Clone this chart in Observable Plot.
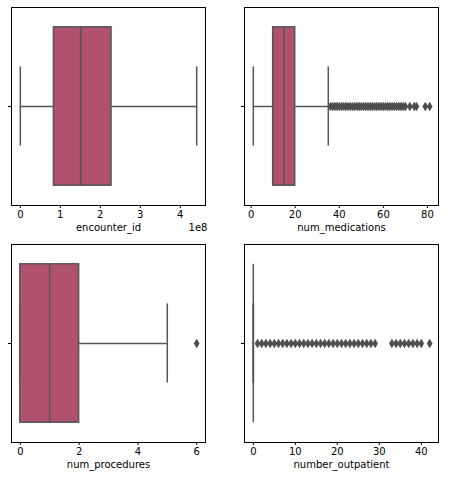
<!DOCTYPE html>
<html>
<head>
<meta charset="utf-8">
<script src="https://cdn.jsdelivr.net/npm/d3@7"></script>
<script src="https://cdn.jsdelivr.net/npm/@observablehq/plot@0.6"></script>
<style>
  html, body { margin: 0; padding: 0; background: white; }
  #wrap { position: relative; width: 460px; height: 481px; background: white; }
  .cell { position: absolute; }
</style>
</head>
<body>
<div id="wrap"></div>
<script>
// Box-plot summary statistics per variable
const variables    = ["encounter_id", "num_medications", "num_procedures", "number_outpatient"];
const lowerWhisker = [12522, 1, 0, 0];
const q1Values     = [0.84e8, 10, 0, 0];
const medianValues = [1.51e8, 15, 1, 0];
const q3Values     = [2.28e8, 20, 2, 0];
const upperWhisker = [4.41e8, 35, 5, 0];

// Outliers (fliers)
const outliersEncounter   = [];
const outliersMedications = [36,37,38,39,40,41,42,43,44,45,46,47,48,49,50,51,52,53,54,55,56,57,58,59,60,61,62,63,64,65,66,67,68,69,70,72,74,75,79,81];
const outliersProcedures  = [6];
const outliersOutpatient  = [1,2,3,4,5,6,7,8,9,10,11,12,13,14,15,16,17,18,19,20,21,22,23,24,25,26,27,28,29,33,34,35,36,37,38,39,40,42];

// Tick values
const ticksEncounter   = [0, 1e8, 2e8, 3e8, 4e8];
const ticksMedications = [0, 20, 40, 60, 80];
const ticksProcedures  = [0, 2, 4, 6];
const ticksOutpatient  = [0, 10, 20, 30, 40];

const boxColor = "#b0516e";
const lineColor = "#555555";
const flierColor = "#4d4d4d";

function panel(i, outliers, ticks, layout, tickFormat, offsetText) {
  const lo = lowerWhisker[i], q1 = q1Values[i], med = medianValues[i], q3 = q3Values[i], hi = upperWhisker[i];
  const all = [lo, hi, ...outliers];
  const mn = d3.min(all), mx = d3.max(all), pad = (mx - mn) * 0.05;
  const marks = [
    Plot.ruleY([0], {x1: lo, x2: q1, stroke: lineColor, strokeWidth: 1.5}),
    Plot.ruleY([0], {x1: q3, x2: hi, stroke: lineColor, strokeWidth: 1.5}),
    Plot.ruleX([lo, hi], {y1: -0.2, y2: 0.2, stroke: lineColor, strokeWidth: 1.5}),
    Plot.rect([0], {x1: q1, x2: q3, y1: -0.4, y2: 0.4, fill: boxColor, stroke: lineColor, strokeWidth: 1.5}),
    Plot.ruleX([med], {y1: -0.4, y2: 0.4, stroke: lineColor, strokeWidth: 1.5}),
    Plot.dot(outliers, {x: d => d, y: 0, symbol: "diamond", r: 2.5, fill: flierColor, stroke: flierColor, strokeWidth: 0.9}),
    Plot.axisX({ticks, tickFormat: tickFormat || (d => d), tickSize: 3, tickPadding: 2.5, label: null, stroke: "black"}),
    Plot.axisY({ticks: [0], tickSize: 3, tickFormat: () => "", label: null, stroke: "black"}),
    Plot.frame({stroke: "black", strokeWidth: 1}),
    Plot.text([variables[i]], {frameAnchor: "bottom", dy: 25, text: d => d, fontSize: 10, fill: "black"})
  ];
  if (offsetText) {
    marks.push(Plot.text([offsetText], {frameAnchor: "bottom-right", textAnchor: "end", dx: 2, dy: 25, text: d => d, fontSize: 10, fill: "black"}));
  }
  return Plot.plot({
    width: 230,
    height: layout.h,
    marginLeft: layout.mL,
    marginRight: layout.mR,
    marginTop: layout.mT,
    marginBottom: layout.mB,
    x: {domain: [mn - pad, mx + pad]},
    y: {domain: [-0.5, 0.5]},
    style: {fontFamily: "DejaVu Sans", fontSize: "10px", color: "black", background: "white"},
    marks
  });
}

const wrap = document.getElementById("wrap");
function place(svg, left, top) {
  const d = document.createElement("div");
  d.className = "cell";
  d.style.left = left + "px";
  d.style.top = top + "px";
  d.appendChild(svg);
  wrap.appendChild(d);
}

place(panel(0, outliersEncounter, ticksEncounter, {h: 240, mL: 11, mR: 25, mT: 7, mB: 35}, d => d / 1e8, "1e8"), 0, 0);
place(panel(1, outliersMedications, ticksMedications, {h: 240, mL: 14, mR: 22, mT: 7, mB: 35}), 230, 0);
place(panel(2, outliersProcedures, ticksProcedures, {h: 241, mL: 11, mR: 25, mT: 4, mB: 39}), 0, 240);
place(panel(3, outliersOutpatient, ticksOutpatient, {h: 241, mL: 14, mR: 22, mT: 4, mB: 39}), 230, 240);
</script>
</body>
</html>
